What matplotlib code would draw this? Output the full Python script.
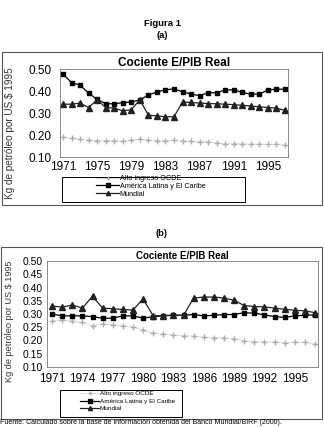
import matplotlib
matplotlib.use("Agg")
import matplotlib.pyplot as plt
from matplotlib.lines import Line2D
from matplotlib.patches import Rectangle

plt.rcParams['font.family'] = ['Liberation Sans', 'DejaVu Sans']

years = list(range(1971, 1998))

# (a)
ocde_a = [0.19, 0.185, 0.18, 0.176, 0.175, 0.175, 0.175, 0.172, 0.177, 0.18,
          0.177, 0.174, 0.174, 0.176, 0.173, 0.171, 0.17, 0.168, 0.163, 0.16,
          0.16, 0.16, 0.158, 0.158, 0.157, 0.158, 0.153]
alc_a = [0.477, 0.438, 0.427, 0.39, 0.362, 0.342, 0.342, 0.347, 0.35, 0.359,
         0.382, 0.395, 0.406, 0.409, 0.397, 0.386, 0.379, 0.392, 0.392, 0.405,
         0.405, 0.394, 0.385, 0.386, 0.405, 0.408, 0.408]
mundial_a = [0.34, 0.34, 0.345, 0.325, 0.36, 0.325, 0.322, 0.31, 0.315, 0.36,
             0.29, 0.287, 0.283, 0.283, 0.35, 0.348, 0.345, 0.343, 0.342, 0.34,
             0.338, 0.335, 0.332, 0.328, 0.325, 0.322, 0.312]

# (b)
ocde_b = [0.274, 0.277, 0.272, 0.268, 0.255, 0.262, 0.26, 0.256, 0.25, 0.239,
          0.227, 0.224, 0.22, 0.218, 0.217, 0.212, 0.21, 0.21, 0.207, 0.197,
          0.195, 0.195, 0.195, 0.19, 0.194, 0.194, 0.186]
alc_b = [0.30, 0.293, 0.293, 0.293, 0.29, 0.284, 0.284, 0.293, 0.293, 0.284,
         0.29, 0.293, 0.295, 0.295, 0.298, 0.293, 0.295, 0.298, 0.298, 0.305,
         0.303, 0.297, 0.29, 0.287, 0.293, 0.295, 0.297]
mundial_b = [0.33, 0.326, 0.334, 0.322, 0.367, 0.322, 0.32, 0.317, 0.315, 0.357,
             0.293, 0.294, 0.296, 0.295, 0.36, 0.364, 0.364, 0.36, 0.352, 0.332,
             0.328, 0.327, 0.322, 0.318, 0.314, 0.312, 0.305]

labels = ['Alto ingreso OCDE', 'América Latina y El Caribe', 'Mundial']
title = 'Cociente E/PIB Real'
ylabel = 'Kg de petróleo por US $ 1995'

W, H = 324, 428
fig = plt.figure(figsize=(W / 100, H / 100), dpi=100)


def box(l, t, r, b):
    return [l / W, 1 - b / H, (r - l) / W, (b - t) / H]


def draw(ax, ocde, alc, mundial):
    ax.plot(years, ocde, '-', color='#d4d4d4', lw=0.6, marker='+', ms=3.8,
            mec='#adadad', mew=1.0)
    ax.plot(years, alc, '-', color='black', lw=0.9, marker='s', ms=3.2)
    ax.plot(years, mundial, '-', color='#222222', lw=0.9, marker='^', ms=3.8)
    for s in ax.spines.values():
        s.set_color('#777777')
        s.set_linewidth(0.6)
    ax.tick_params(length=0, labelsize=8, pad=3)


# frames
fig.patches.append(Rectangle((2 / W, 1 - 205 / H), 320 / W, 153 / H,
                             transform=fig.transFigure, fill=False,
                             ec='#555555', lw=0.8))
fig.patches.append(Rectangle((1 / W, 1 - 419 / H), 321 / W, 172 / H,
                             transform=fig.transFigure, fill=False,
                             ec='#555555', lw=0.8))

fig.text(162 / W, 1 - 24 / H, 'Figura 1', ha='center', va='center',
         fontsize=6.8, fontweight='bold')
fig.text(162 / W, 1 - 36 / H, '(a)', ha='center', va='center',
         fontsize=6.8, fontweight='bold')
fig.text(162 / W, 1 - 233 / H, '(b)', ha='center', va='center',
         fontsize=6.8, fontweight='bold')

# chart a
ax1 = fig.add_axes(box(60, 69, 288, 157))
draw(ax1, ocde_a, alc_a, mundial_a)
ax1.set_xlim(1970.65, 1997.35)
ax1.set_ylim(0.10, 0.50)
ax1.set_yticks([0.10, 0.20, 0.30, 0.40, 0.50])
ax1.set_yticklabels(['0.10', '0.20', '0.30', '0.40', '0.50'])
ax1.set_xticks(list(range(1971, 1996, 4)))
ax1.tick_params(labelsize=8.5)
ax1.tick_params(axis='y', pad=6)
ax1.set_title(title, fontsize=8.5, fontweight='bold', pad=2)
fig.text(10 / W, 1 - 133 / H, ylabel, rotation=90, ha='center', va='center',
         fontsize=7.2, color='#333333')

# chart b
ax2 = fig.add_axes(box(47, 261, 318, 367))
draw(ax2, ocde_b, alc_b, mundial_b)
ax2.set_xlim(1970.5, 1997.3)
ax2.set_ylim(0.10, 0.50)
yt = [0.10, 0.15, 0.20, 0.25, 0.30, 0.35, 0.40, 0.45, 0.50]
ax2.set_yticks(yt)
ax2.set_yticklabels(['%.2f' % v for v in yt])
ax2.set_xticks(list(range(1971, 1996, 3)))
ax2.tick_params(labelsize=7.5)
ax2.tick_params(axis='x', labelsize=8.5, pad=4)
ax2.set_title(title, fontsize=7, fontweight='bold', pad=1)
fig.text(10 / W, 1 - 321 / H, ylabel, rotation=90, ha='center', va='center',
         fontsize=6.6, color='#333333')

# legends
handles = [
    Line2D([], [], color='#d4d4d4', lw=0.6, marker='+', ms=3, mec='#adadad'),
    Line2D([], [], color='black', lw=0.9, marker='s', ms=2.5),
    Line2D([], [], color='#222222', lw=0.9, marker='^', ms=3),
]
fig.patches.append(Rectangle((62 / W, 1 - 202 / H), 183 / W, 25 / H,
                             transform=fig.transFigure, fill=False,
                             ec='black', lw=0.7))
fig.legend(handles, labels, loc='upper left', frameon=False,
           bbox_to_anchor=(96 / W, 1 - 175 / H), fontsize=5.2,
           handlelength=3.2, handletextpad=0.1, labelspacing=0.1,
           borderpad=0, borderaxespad=0)
fig.patches.append(Rectangle((60 / W, 1 - 417 / H), 122 / W, 27 / H,
                             transform=fig.transFigure, fill=False,
                             ec='black', lw=0.7))
fig.legend(handles, labels, loc='upper left', frameon=False,
           bbox_to_anchor=(80 / W, 1 - 391 / H), fontsize=4.6,
           handlelength=3.0, handletextpad=0.1, labelspacing=0.3,
           borderpad=0, borderaxespad=0)

fig.text(0 / W, 1 - 423 / H,
         'Fuente: Calculado sobre la base de información obtenida del '
         'Banco Mundial/BIRF (2000).', ha='left', va='center', fontsize=5)

fig.savefig('out.png', dpi=100)
